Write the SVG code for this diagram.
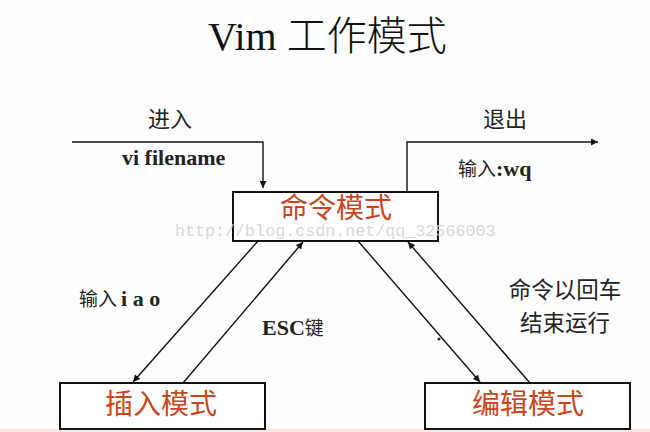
<svg xmlns="http://www.w3.org/2000/svg" width="650" height="432" viewBox="0 0 650 432">
<style>
.box{fill:#fff;stroke:#111;stroke-width:2}
.bt{font-family:"Noto Sans CJK SC",sans-serif;font-size:28px;fill:#c8461e;text-anchor:middle}
.lb{font-family:"Noto Sans CJK SC",sans-serif;fill:#222}
.en{font-family:"Liberation Serif",serif;font-weight:bold;fill:#222}
.ln{stroke:#111;stroke-width:1.4;fill:none}
</style>
<defs>
<marker id="ah" viewBox="0 0 10 10" refX="10" refY="5" markerWidth="9" markerHeight="7" markerUnits="userSpaceOnUse" orient="auto">
<path d="M0,0 L10,5 L0,10 Z" fill="#111"/>
</marker>
</defs>
<rect x="0" y="0" width="650" height="432" fill="#fdfdfd"/>
<rect x="0" y="429" width="650" height="3" fill="#fbe9df"/>
<text x="208" y="50" font-family="Liberation Serif,serif" font-size="40" fill="#111">Vim <tspan font-family="Noto Sans CJK SC,sans-serif" font-weight="300">工作模式</tspan></text>
<g id="connectors">
<polyline class="ln" points="72,142 263,142 263,188" marker-end="url(#ah)"/>
<polyline class="ln" points="407,191 407,142 598,142" marker-end="url(#ah)"/>
<line class="ln" x1="258" y1="241" x2="133" y2="382" marker-end="url(#ah)"/>
<line class="ln" x1="183" y1="383" x2="303" y2="242" marker-end="url(#ah)"/>
<line class="ln" x1="358" y1="241" x2="480" y2="382" marker-end="url(#ah)"/>
<line class="ln" x1="530" y1="383" x2="408" y2="242" marker-end="url(#ah)"/>
<circle cx="439" cy="339" r="1.5" fill="#222"/>
</g>
<g id="labels">
<text class="lb" x="170" y="127" font-size="22" text-anchor="middle">进入</text>
<text class="en" x="122" y="165" font-size="22">vi filename</text>
<text class="lb" x="505" y="127" font-size="22" text-anchor="middle">退出</text>
<text class="lb" x="458" y="176" font-size="19">输入<tspan class="en" font-size="22">:wq</tspan></text>
<text class="lb" x="79" y="306" font-size="19">输入<tspan class="en" font-size="22" dx="4">i a o</tspan></text>
<text class="en" x="262" y="335" font-size="22">ESC<tspan class="lb" font-weight="normal" font-size="19">键</tspan></text>
<text class="lb" x="565" y="298" font-size="22.5" text-anchor="middle">命令以回车</text>
<text class="lb" x="565" y="331" font-size="22.5" text-anchor="middle">结束运行</text>
</g>
<g id="cmd">
<rect class="box" x="233" y="192" width="205" height="49"/>
<text class="bt" x="336" y="218" font-size="27">命令模式</text>
</g>
<g id="insert">
<rect class="box" x="60" y="383" width="205" height="46"/>
<text class="bt" x="161" y="414">插入模式</text>
</g>
<g id="edit">
<rect class="box" x="425" y="383" width="205" height="46"/>
<text class="bt" x="528" y="414">编辑模式</text>
</g>
<text x="175" y="236" font-family="Liberation Mono,monospace" font-size="16.7" fill="#cfcfcf" fill-opacity="0.85">http://blog.csdn.net/qq_32566003</text>
</svg>
